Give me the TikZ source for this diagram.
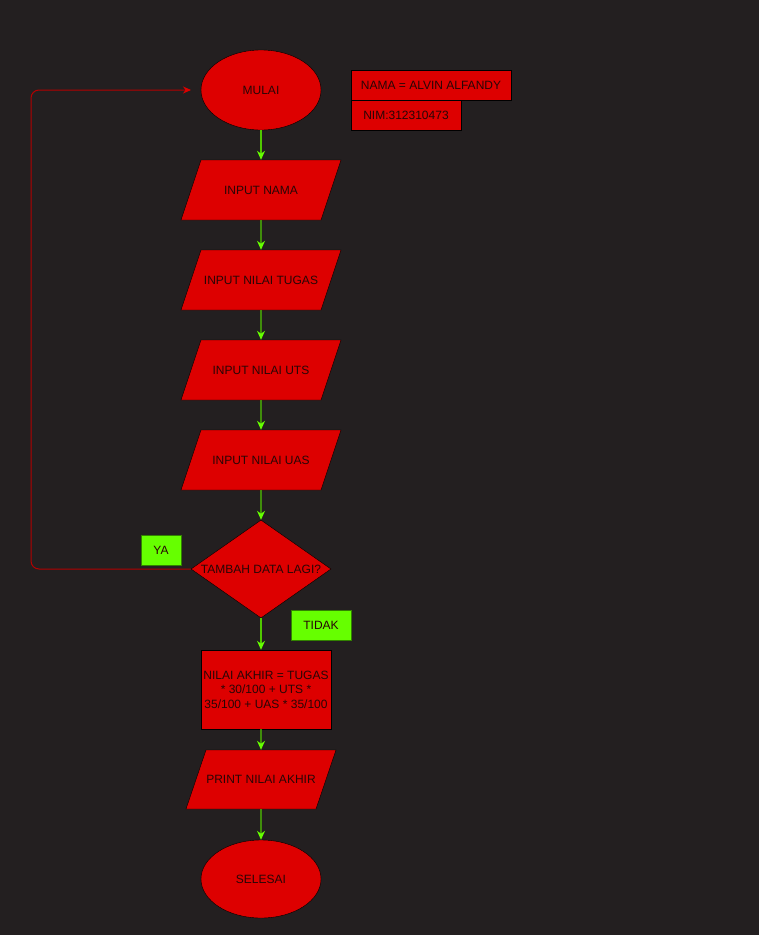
\documentclass[tikz,border=0pt]{standalone}
\usepackage{fontspec}
\setmainfont{Liberation Sans}
\usetikzlibrary{positioning, arrows.meta}
\usetikzlibrary{shapes.geometric}
\definecolor{bgdark}{RGB}{35,31,32}
\definecolor{boxred}{RGB}{221,0,0}
\definecolor{txtdark}{RGB}{40,6,6}
\definecolor{lime}{RGB}{102,255,0}
\definecolor{limeline}{RGB}{80,200,0}
\definecolor{limeedge}{RGB}{50,130,0}
\definecolor{loopred}{RGB}{180,0,0}
\tikzstyle{term}=[ellipse, draw=black, fill=boxred, text=txtdark,
minimum width=120, minimum height=80, inner sep=0]
\tikzstyle{io}=[trapezium, trapezium left angle=71.57, trapezium right angle=108.43,
trapezium stretches body, draw=black, fill=boxred, text=txtdark,
minimum width=160, text height=34.3, text depth=25.7, inner sep=0]
\tikzstyle{decision}=[diamond, draw=black, fill=boxred, text=txtdark,
minimum width=140, minimum height=98, inner sep=0]
\tikzstyle{proc}=[rectangle, draw=black, fill=boxred, text=txtdark,
align=center, inner sep=0]
\tikzstyle{tag}=[rectangle, draw=limeedge, fill=lime, text=txtdark, inner sep=0]
\tikzstyle{flow}=[draw=limeline, line width=1.2pt, -{Stealth[length=9pt,width=8pt,color=lime]}]
\tikzstyle{backflow}=[draw=loopred, line width=1pt, rounded corners=8,
-{Stealth[length=8pt,width=7pt,color=boxred]}]

\begin{document}
\begin{tikzpicture}[x=1pt, y=-1pt, font=\fontsize{12}{14.5}\selectfont]
\fill[bgdark] (0,0) rectangle (759,935);
\useasboundingbox (0,0) rectangle (759,935);

\node [term] (mulai) at (261, 90) {MULAI};
\node [proc, minimum width=160, minimum height=30] (nama) at (431, 85) {NAMA = ALVIN ALFANDY};
\node [proc, minimum width=110, minimum height=30] (nim) at (406, 115) {NIM:312310473};

\node [io] (in1) at (261, 190) {INPUT NAMA};
\node [io] (in2) at (261, 280) {INPUT NILAI TUGAS};
\node [io] (in3) at (261, 370) {INPUT NILAI UTS};
\node [io] (in4) at (261, 460) {INPUT NILAI UAS};

\node [decision] (tambah) at (261, 569) {\makebox[0pt]{TAMBAH DATA LAGI?}};
\node [tag, minimum width=40, minimum height=30] (ya) at (161, 550) {YA};
\node [tag, minimum width=60, minimum height=30] (tidak) at (321, 625) {TIDAK};

\node [proc, minimum width=130, minimum height=79] (akhir) at (266, 689.5)
  {NILAI AKHIR = TUGAS\\* 30/100 + UTS *\\35/100 + UAS * 35/100};
\node [io, trapezium left angle=71.27, trapezium right angle=108.73,
  minimum width=150, text height=33.8, text depth=25.2] (print) at (261, 779.5) {PRINT NILAI AKHIR};
\node [term, minimum height=78] (selesai) at (261, 879) {SELESAI};

\coordinate (back) at (191, 90);

\draw [flow] (mulai) to (in1);
\draw [flow] (in1) to (in2);
\draw [flow] (in2) to (in3);
\draw [flow] (in3) to (in4);
\draw [flow] (in4) to (tambah);
\draw [flow] (tambah.south) to (tambah.south |- akhir.north);
\draw [flow] (tambah.south |- akhir.south) to (print);
\draw [flow] (print) to (selesai);

%%%%%%%%%%%%%%%%%%%%%%%%%%%
\draw [backflow] (tambah.west) -- (31, 569) -- (31, 90) -- (back);

\end{tikzpicture}
\end{document}
